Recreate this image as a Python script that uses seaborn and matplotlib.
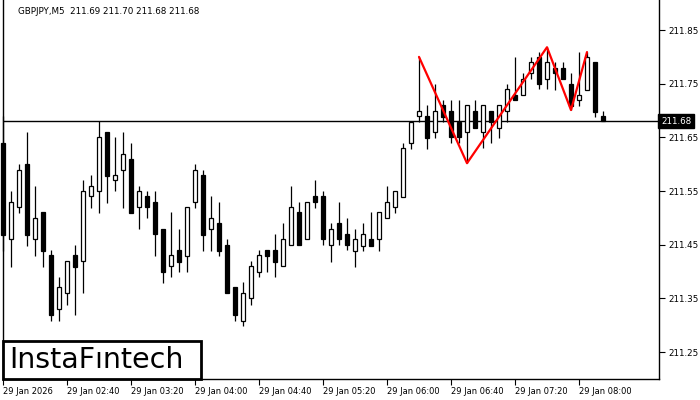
import numpy as np
import pandas as pd
import matplotlib
matplotlib.use('Agg')
import matplotlib.pyplot as plt
import seaborn as sns
from matplotlib.patches import Rectangle

sns.set_style("white")
plt.rcParams['font.family'] = ['DejaVu Sans']
plt.rcParams['text.color'] = 'black'
plt.rcParams['xtick.color'] = 'black'
plt.rcParams['ytick.color'] = 'black'

# GBPJPY M5, 29 Jan 02:00 - 08:15
opens = [211.639, 211.461, 211.520, 211.600, 211.461, 211.511, 211.431, 211.330, 211.360, 211.431,
         211.420, 211.541, 211.550, 211.660, 211.571, 211.589, 211.610, 211.520, 211.541, 211.530,
         211.479, 211.410, 211.440, 211.429, 211.530, 211.580, 211.479, 211.490, 211.449, 211.371,
         211.308, 211.351, 211.399, 211.440, 211.440, 211.410, 211.449, 211.511, 211.461, 211.541,
         211.541, 211.449, 211.490, 211.470, 211.438, 211.448, 211.461, 211.461, 211.500, 211.520,
         211.539, 211.639, 211.690, 211.690, 211.660, 211.710, 211.699, 211.679, 211.660, 211.699,
         211.660, 211.699, 211.667, 211.699, 211.729, 211.729, 211.770, 211.800, 211.759, 211.779,
         211.779, 211.749, 211.720, 211.738, 211.790, 211.690]
highs = [211.690, 211.550, 211.600, 211.660, 211.559, 211.511, 211.440, 211.390, 211.420, 211.449,
         211.571, 211.580, 211.680, 211.660, 211.651, 211.660, 211.639, 211.559, 211.550, 211.550,
         211.479, 211.511, 211.479, 211.520, 211.600, 211.589, 211.541, 211.530, 211.461, 211.371,
         211.380, 211.420, 211.440, 211.440, 211.470, 211.490, 211.559, 211.530, 211.530, 211.571,
         211.550, 211.490, 211.530, 211.500, 211.479, 211.490, 211.511, 211.511, 211.559, 211.550,
         211.639, 211.679, 211.800, 211.710, 211.749, 211.720, 211.720, 211.720, 211.710, 211.720,
         211.710, 211.699, 211.710, 211.749, 211.800, 211.770, 211.800, 211.809, 211.818, 211.790,
         211.790, 211.770, 211.809, 211.809, 211.790, 211.700]
lows = [211.438, 211.408, 211.509, 211.448, 211.429, 211.408, 211.308, 211.308, 211.338, 211.319,
        211.360, 211.518, 211.509, 211.528, 211.550, 211.518, 211.509, 211.479, 211.500, 211.429,
        211.379, 211.390, 211.399, 211.399, 211.518, 211.438, 211.438, 211.429, 211.360, 211.308,
        211.298, 211.338, 211.390, 211.399, 211.390, 211.410, 211.449, 211.449, 211.461, 211.518,
        211.449, 211.418, 211.449, 211.440, 211.408, 211.438, 211.448, 211.438, 211.500, 211.509,
        211.539, 211.628, 211.679, 211.628, 211.649, 211.679, 211.639, 211.639, 211.602, 211.667,
        211.630, 211.639, 211.649, 211.679, 211.720, 211.729, 211.759, 211.740, 211.740, 211.738,
        211.759, 211.701, 211.708, 211.738, 211.688, 211.680]
closes = [211.468, 211.530, 211.589, 211.468, 211.500, 211.438, 211.319, 211.371, 211.420, 211.408,
          211.550, 211.559, 211.651, 211.578, 211.580, 211.619, 211.509, 211.550, 211.520, 211.470,
          211.399, 211.431, 211.418, 211.520, 211.589, 211.468, 211.500, 211.438, 211.360, 211.319,
          211.360, 211.410, 211.431, 211.429, 211.418, 211.461, 211.520, 211.449, 211.530, 211.530,
          211.461, 211.479, 211.461, 211.449, 211.461, 211.470, 211.448, 211.511, 211.530, 211.550,
          211.630, 211.679, 211.699, 211.649, 211.699, 211.688, 211.651, 211.651, 211.710, 211.667,
          211.710, 211.679, 211.710, 211.740, 211.720, 211.759, 211.790, 211.749, 211.790, 211.770,
          211.759, 211.708, 211.729, 211.800, 211.697, 211.680]

tick_bars = [0, 8, 16, 24, 32, 40, 48, 56, 64, 72]
tick_labels = ['29 Jan 2026', '29 Jan 02:40', '29 Jan 03:20', '29 Jan 04:00', '29 Jan 04:40',
               '29 Jan 05:20', '29 Jan 06:00', '29 Jan 06:40', '29 Jan 07:20', '29 Jan 08:00']
price_ticks = [211.25, 211.35, 211.45, 211.55, 211.65, 211.75, 211.85]

# triple top pattern
pattern_bars = [52, 58, 68, 71, 73]
pattern_prices = [211.800, 211.602, 211.818, 211.701, 211.809]

last_price = 211.68
title = 'GBPJPY,M5  211.69 211.70 211.68 211.68'

df = pd.DataFrame({'open': opens, 'high': highs, 'low': lows, 'close': closes})
df['bar'] = np.arange(len(df))
up = df['close'] >= df['open']

fig = plt.figure(figsize=(7, 4), dpi=100)
ax = fig.add_axes([3 / 700, 21 / 400, 656 / 700, 379 / 400])

ax.vlines(df['bar'], df['low'], df['high'], color='black', linewidth=0.9, zorder=2, clip_on=False)
ax.bar(df['bar'], (df['close'] - df['open']).abs(), bottom=df[['open', 'close']].min(axis=1),
       width=0.6, color=np.where(up, 'white', 'black'), edgecolor='black', linewidth=0.9,
       zorder=3, clip_on=False)
ax.axhline(last_price, color='black', linewidth=1, zorder=1)
sns.lineplot(x=pattern_bars, y=pattern_prices, color='red', linewidth=1.6, ax=ax, zorder=4)

ax.set_xlim(0, 82)
ax.set_ylim(211.200, 211.906)

ax.yaxis.tick_right()
ax.set_yticks(price_ticks)
ax.set_yticklabels([f'{p:.2f}' for p in price_ticks])
ax.set_xticks(tick_bars)
ax.set_xticklabels(tick_labels, ha='left')
ax.tick_params(axis='y', direction='out', length=4, width=0.8, labelsize=6.3, pad=3, right=True)
ax.tick_params(axis='x', direction='out', length=4, width=0.8, labelsize=6, pad=2, bottom=True)
ax.set_xlabel('')
ax.set_ylabel('')
for side in ['left', 'right', 'bottom']:
    ax.spines[side].set_color('black')
    ax.spines[side].set_linewidth(1)
ax.spines['top'].set_visible(False)

ax.text(1.003, last_price, '211.68', transform=ax.get_yaxis_transform(), color='white',
        fontsize=6.3, va='center', ha='left',
        bbox=dict(boxstyle='square,pad=0.3', facecolor='black', edgecolor='black'))

fig.text(18 / 700, 1 - 11 / 400, title, fontsize=6.3, va='center', ha='left', color='black')

fig.patches.append(Rectangle((3 / 700, 21 / 400), 198 / 700, 38 / 400, transform=fig.transFigure,
                             facecolor='white', edgecolor='black', linewidth=2))
fig.text(9 / 700, 1 - 360 / 400, 'InstaFıntech', fontsize=20.5, va='center', ha='left',
         color='black')

fig.savefig('out.png', dpi=100)
